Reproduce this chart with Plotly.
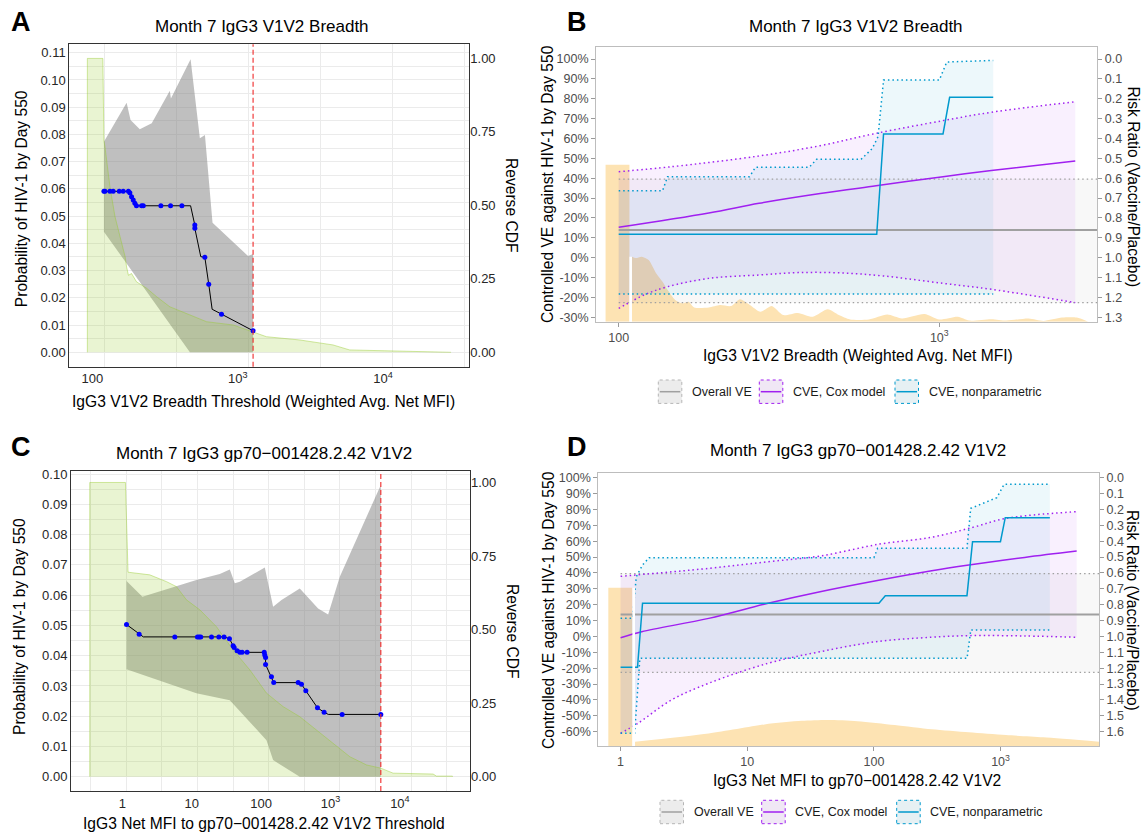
import math
import plotly.graph_objects as go

FONT = "Liberation Sans, Arial, sans-serif"
W, H = 1143, 833

# ================= DATA =================
# ---- Panel A: Month 7 IgG3 V1V2 Breadth (risk by threshold) ----
a_pt_x = [120, 122, 132, 139, 153, 163, 177, 181, 186, 191, 196, 201, 218, 224, 296, 345, 413, 507, 507, 594, 632, 774, 1276]
a_pt_y = [0.0591, 0.0591, 0.0591, 0.0591, 0.0591, 0.0591, 0.0591, 0.0586, 0.0571, 0.0559, 0.0547, 0.0538, 0.0538, 0.0538,
          0.0538, 0.0538, 0.0538, 0.0467, 0.0455, 0.0349, 0.0250, 0.0140, 0.0079]
a_line_x = [120, 181, 201, 474, 507, 507, 557, 594, 632, 667, 774, 1276]
a_line_y = [0.0591, 0.0591, 0.0538, 0.0538, 0.0467, 0.0455, 0.0351, 0.0349, 0.0250, 0.0158, 0.0140, 0.0079]
a_ci_up_x = [120, 124, 172, 183, 212, 256, 341, 347, 474, 549, 595, 671, 1178, 1276]
a_ci_up_y = [0.0773, 0.0786, 0.0916, 0.0853, 0.0819, 0.0841, 0.0960, 0.0932, 0.1076, 0.0786, 0.0798, 0.0476, 0.0354, 0.0361]
a_ci_lo_x = [120, 469, 1276]
a_ci_lo_y = [0.0443, 0.0, 0.0]
a_cdf_x = [92.3, 118, 120, 122, 132, 143, 155, 168, 172, 177, 186, 201, 236, 277, 341, 469, 611, 930, 1276, 1578, 2673,
           4530, 5894, 29400]
a_cdf_y = [1.0, 1.0, 0.72, 0.700, 0.564, 0.462, 0.393, 0.325, 0.290, 0.262, 0.268, 0.240, 0.218, 0.189, 0.155, 0.127,
           0.104, 0.093, 0.070, 0.053, 0.042, 0.025, 0.008, 0.002]

# ---- Panel C: Month 7 IgG3 gp70-001428.2.42 V1V2 (risk by threshold) ----
c_pt_x = [1.15, 1.75, 5.71, 12.1, 12.8, 13.5, 19.3, 24.6, 29.3, 35.0, 39.5, 40.9, 45.1, 49.4, 53.3, 62.9, 111, 113, 116,
          116, 141, 152, 342, 382, 441, 649, 809, 1471, 5310]
c_pt_y = [0.0503, 0.0471, 0.0462, 0.0462, 0.0462, 0.0462, 0.0462, 0.0462, 0.0462, 0.0456, 0.0433, 0.0427, 0.0416, 0.0411,
          0.0411, 0.0411, 0.0411, 0.0402, 0.0394, 0.0371, 0.0330, 0.0311, 0.0311, 0.0306, 0.0284, 0.0228, 0.0213, 0.0206,
          0.0206]
c_line_x = [1.15, 1.75, 2.01, 29.3, 35.0, 39.5, 40.9, 45.1, 49.4, 111, 113, 116, 116, 141, 152, 342, 382, 441, 649, 809,
            929, 5310]
c_line_y = [0.0503, 0.0471, 0.0462, 0.0462, 0.0456, 0.0433, 0.0427, 0.0416, 0.0411, 0.0411, 0.0402, 0.0394, 0.0371,
            0.0330, 0.0311, 0.0311, 0.0306, 0.0284, 0.0228, 0.0213, 0.0206, 0.0206]
c_ci_up_x = [1.15, 1.95, 11.7, 25.4, 35.4, 41.8, 49.4, 113, 149, 197, 361, 663, 925, 1362, 5310]
c_ci_up_y = [0.0647, 0.0595, 0.0650, 0.0670, 0.0685, 0.0639, 0.0644, 0.0691, 0.0562, 0.0584, 0.0622, 0.0556, 0.0536,
             0.0661, 0.0964]
c_ci_lo_x = [1.15, 11.7, 35.4, 119.5, 149, 361, 5310]
c_ci_lo_y = [0.0355, 0.0276, 0.0253, 0.0121, 0.0055, 0.0, 0.0]
c_cdf_x = [0.34, 1.11, 1.21, 2.49, 4.33, 6.03, 8.41, 13.1, 22.7, 39.5, 68.8, 119.5, 208, 361, 628, 1091, 1897, 3297,
           5310, 7990, 30100, 33600, 57200]
c_cdf_y = [1.0, 1.0, 0.695, 0.686, 0.663, 0.646, 0.601, 0.567, 0.510, 0.431, 0.363, 0.284, 0.238, 0.204, 0.159, 0.114,
           0.068, 0.040, 0.029, 0.012, 0.009, 0.002, 0.002]

# ---- Overall VE (shared by B and D), percent ----
overall_ve = 13.9
overall_lo = -22.6
overall_hi = 39.6

# ---- Panel B: CVE vs IgG3 V1V2 Breadth (percent) ----
b_cox_x = [100, 191, 274, 425, 635, 1027, 1453, 2655]
b_cox_y = [15.3, 22.5, 27.4, 32.3, 36.2, 40.8, 43.9, 48.7]
b_cox_up_x = [100, 146, 274, 425, 635, 1027, 1453, 2655]
b_cox_up_y = [43.3, 45.8, 51.2, 56.4, 62.6, 69.0, 73.2, 78.5]
b_cox_lo_x = [100, 121, 142, 191, 274, 362, 486, 670, 1027, 1453, 2655]
b_cox_lo_y = [-25.5, -18.5, -14.6, -10.4, -8.7, -7.5, -7.6, -9.2, -12.9, -15.9, -22.6]
b_np_x = [100, 638, 670, 1027, 1077, 1473]
b_np_y = [11.8, 11.8, 62.3, 62.3, 80.7, 80.7]
b_np_up_x = [100, 137, 142, 256, 267, 393, 414, 570, 618, 644, 670, 1000, 1055, 1473]
b_np_up_y = [33.7, 33.7, 40.8, 40.8, 45.5, 45.5, 49.5, 49.5, 55.0, 60.9, 89.4, 89.4, 98.5, 99.3]
b_np_lo_x = [100, 1473]
b_np_lo_y = [-18.3, -18.3]
b_bar_x = [91, 108]
b_bar_h = 0.572
b_dens_x = [110, 113, 118, 124, 131, 137, 142, 150, 158, 165, 172, 191, 207, 224, 239, 256, 277, 300, 326, 362, 403, 449,
            486, 527, 603, 688, 765, 899, 1000, 1143, 1239, 1454, 1619, 1899, 2112, 2415, 2687, 2911]
b_dens_h = [0.237, 0.232, 0.237, 0.225, 0.176, 0.146, 0.116, 0.079, 0.067, 0.073, 0.052, 0.052, 0.061, 0.057, 0.082,
            0.062, 0.036, 0.057, 0.024, 0.032, 0.018, 0.045, 0.024, 0.008, 0.008, 0.026, 0.012, 0.028, 0.008, 0.018,
            0.004, 0.009, 0.004, 0.012, 0.003, 0.015, 0.015, 0.0]

# ---- Panel D: CVE vs IgG3 Net MFI to gp70-001428.2.42 V1V2 (percent) ----
d_cox_x = [1, 1.47, 4.96, 14.6, 37.6, 104, 286, 562, 1549, 3990]
d_cox_y = [-0.8, 3.0, 11.4, 20.9, 28.2, 35.1, 41.4, 45.0, 49.8, 53.8]
d_cox_up_x = [1, 4.96, 14.6, 37.7, 111, 286, 602, 1107, 3990]
d_cox_up_y = [37.9, 42.9, 47.1, 50.7, 58.2, 62.5, 68.7, 74.4, 78.6]
d_cox_lo_x = [1, 1.37, 2.52, 4.96, 14.6, 37.7, 104, 286, 563, 1552, 3990]
d_cox_lo_y = [-61.0, -54.7, -40.0, -29.5, -16.9, -9.6, -3.3, -0.5, 0.5, 0.3, -0.5]
d_np_x = [1, 1.36, 1.49, 109.6, 123, 543, 601, 998, 1089, 2450]
d_np_y = [-19.4, -19.4, 20.9, 20.9, 25.7, 25.7, 59.7, 59.7, 74.8, 74.8]
d_np_up_x = [1, 1.24, 1.33, 1.49, 1.68, 100, 107, 543, 581, 933, 1067, 2450]
d_np_up_y = [11.4, 11.4, 37.6, 45.0, 49.6, 49.6, 55.5, 55.5, 80.7, 87.4, 95.8, 95.8]
d_np_lo_x = [1, 1.29, 1.42, 544, 582, 2450]
d_np_lo_y = [-61.0, -61.0, -13.8, -13.8, 4.1, 4.1]
d_bar_x = [0.80, 1.24]
d_bar_h = 0.579
d_dens_x = [1.30, 4.96, 13.7, 26.9, 43.1, 74.1, 146, 286, 562, 1104, 2172, 6000]
d_dens_h = [0.016, 0.046, 0.079, 0.092, 0.095, 0.091, 0.077, 0.061, 0.050, 0.040, 0.032, 0.016]

# ---- tick labels ----
a_prob_ticks = [0.00, 0.01, 0.02, 0.03, 0.04, 0.05, 0.06, 0.07, 0.08, 0.09, 0.10, 0.11]
c_prob_ticks = [0.00, 0.01, 0.02, 0.03, 0.04, 0.05, 0.06, 0.07, 0.08, 0.09, 0.10]
cdf_ticks = [0.0, 0.25, 0.5, 0.75, 1.0]
cdf_text = ["0.00", "0.25", "0.50", "0.75", "1.00"]
a_x_ticks = [100, 1000, 10000]
a_x_text = ["100", "10<sup>3</sup>", "10<sup>4</sup>"]
c_x_ticks = [1, 10, 100, 1000, 10000]
c_x_text = ["1", "10", "100", "10<sup>3</sup>", "10<sup>4</sup>"]
b_x_ticks = [100, 1000]
b_x_text = ["100", "10<sup>3</sup>"]
d_x_ticks = [1, 10, 100, 1000]
d_x_text = ["1", "10", "100", "10<sup>3</sup>"]
b_ve_ticks = [-30, -20, -10, 0, 10, 20, 30, 40, 50, 60, 70, 80, 90, 100]
d_ve_ticks = [-60, -50, -40, -30, -20, -10, 0, 10, 20, 30, 40, 50, 60, 70, 80, 90, 100]
b_rr_ticks = [0.0, 0.1, 0.2, 0.3, 0.4, 0.5, 0.6, 0.7, 0.8, 0.9, 1.0, 1.1, 1.2, 1.3]
d_rr_ticks = [0.0, 0.1, 0.2, 0.3, 0.4, 0.5, 0.6, 0.7, 0.8, 0.9, 1.0, 1.1, 1.2, 1.3, 1.4, 1.5, 1.6]

# ================= STYLE =================
GRID = "#EBEBEB"
BORDER_DARK = "#333333"
BORDER_LIGHT = "#BDBDBD"
TICK_DARK = "#262626"
TICK_GRAY = "#4D4D4D"
GRAY_BAND = "rgba(128,128,128,0.50)"
GREEN_FILL = "rgba(154,205,50,0.22)"
GREEN_LINE = "rgba(154,205,50,0.45)"
ORANGE = "#FDE3B3"
PURPLE = "#A020F0"
BLUE = "#009ACD"
OVGRAY = "#A0A0A0"
PURPLE_FILL = "rgba(160,32,240,0.065)"
BLUE_FILL = "rgba(0,154,205,0.07)"
GRAY_FILL = "rgba(150,150,150,0.07)"
DOT = "1.5px,3px"

# pixel geometry of the four panels (left, right, top, bottom)
PA = (69.3, 469.3, 44.3, 366.7)
PB = (596.1, 1097.3, 47.3, 321.7)
PC = (71.0, 470.0, 471.0, 791.0)
PD = (598.3, 1099.1, 472.7, 746.0)

a_xrange = [1.841, 4.594]
c_xrange = [-0.739, 5.010]
b_xrange = [1.9295, 3.4928]
d_xrange = [-0.176, 3.778]
a_yrange = [-0.0053, 0.1131]
c_yrange = [-0.0047, 0.1010]
a_cdfrange = [-0.049, 1.048]
c_cdfrange = [-0.0486, 1.039]
b_verange = [-32.2, 105.9]
d_verange = [-69.0, 103.15]

# vertical grid positions (log10) in A and C
a_grid = [10 ** (2.0819 + 0.4955 * k) for k in range(6)]
c_grid = [10 ** (-0.455 + 0.513 * k) for k in range(11)]


def xdom(p):
    return [p[0] / W, p[1] / W]


def ydom(p):
    return [1 - p[3] / H, 1 - p[2] / H]


def px(x):
    return x / W


def py(y):
    return 1 - y / H


fig = go.Figure()


def add(tr):
    tr.update(hoverinfo="skip", showlegend=False)
    fig.add_trace(tr)


# ================= PANEL A / C (threshold plots) =================
def threshold_panel(xa, ymain, ycdf, yline, up_x, up_y, lo_x, lo_y, cdf_x, cdf_y, line_x, line_y, pt_x, pt_y):
    add(go.Scatter(x=up_x + lo_x[::-1], y=up_y + lo_y[::-1], fill="toself", fillcolor=GRAY_BAND,
                   mode="lines", line=dict(width=0), xaxis=xa, yaxis=ymain))
    add(go.Scatter(x=[cdf_x[0]] + cdf_x + [cdf_x[-1]], y=[0] + cdf_y + [0], fill="toself", fillcolor=GREEN_FILL,
                   mode="lines", line=dict(color=GREEN_LINE, width=1), xaxis=xa, yaxis=ycdf))
    add(go.Scatter(x=line_x, y=line_y, mode="lines", line=dict(color="black", width=1), xaxis=xa, yaxis=yline))
    add(go.Scatter(x=pt_x, y=pt_y, mode="markers", marker=dict(color="#0000FF", size=5), xaxis=xa, yaxis=yline))


threshold_panel("x", "y", "y2", "y3", a_ci_up_x, a_ci_up_y, a_ci_lo_x, a_ci_lo_y, a_cdf_x, a_cdf_y,
                a_line_x, a_line_y, a_pt_x, a_pt_y)
threshold_panel("x3", "y10", "y11", "y12", c_ci_up_x, c_ci_up_y, c_ci_lo_x, c_ci_lo_y, c_cdf_x, c_cdf_y,
                c_line_x, c_line_y, c_pt_x, c_pt_y)


# ================= PANEL B / D (CVE plots) =================
def cve_panel(xa, ydens, yve, yrr, ywhite, xrange, bar_x, bar_h, dens_x, dens_h, gap_h,
              cox_x, cox_y, cup_x, cup_y, clo_x, clo_y, np_x, np_y, nup_x, nup_y, nlo_x, nlo_y):
    add(go.Scatter(x=[bar_x[0], bar_x[0], bar_x[1], bar_x[1]], y=[0, bar_h, bar_h, 0], fill="toself",
                   fillcolor=ORANGE, mode="lines", line=dict(width=0), xaxis=xa, yaxis=ydens))
    add(go.Scatter(x=dens_x, y=dens_h, fill="tozeroy", fillcolor=ORANGE, mode="lines",
                   line=dict(width=0, shape="spline", smoothing=0.7), xaxis=xa, yaxis=ydens))
    x0 = cox_x[0]
    x_end = 10 ** xrange[1]
    add(go.Scatter(x=[x0, x_end, x_end, x0], y=[overall_hi, overall_hi, overall_lo, overall_lo], fill="toself",
                   fillcolor=GRAY_FILL, mode="lines", line=dict(width=0), xaxis=xa, yaxis=yve))
    add(go.Scatter(x=cup_x + clo_x[::-1], y=cup_y + clo_y[::-1], fill="toself", fillcolor=PURPLE_FILL,
                   mode="lines", line=dict(width=0), xaxis=xa, yaxis=yve))
    add(go.Scatter(x=nup_x + nlo_x[::-1], y=nup_y + nlo_y[::-1], fill="toself", fillcolor=BLUE_FILL,
                   mode="lines", line=dict(width=0), xaxis=xa, yaxis=yve))
    for yy in (overall_hi, overall_lo):
        add(go.Scatter(x=[x0, x_end], y=[yy, yy], mode="lines", line=dict(color=OVGRAY, width=1.3, dash=DOT),
                       xaxis=xa, yaxis=yve))
    add(go.Scatter(x=cup_x, y=cup_y, mode="lines", line=dict(color=PURPLE, width=1.5, dash=DOT, shape="spline"),
                   xaxis=xa, yaxis=yve))
    add(go.Scatter(x=clo_x, y=clo_y, mode="lines", line=dict(color=PURPLE, width=1.5, dash=DOT, shape="spline"),
                   xaxis=xa, yaxis=yve))
    add(go.Scatter(x=nup_x, y=nup_y, mode="lines", line=dict(color=BLUE, width=1.5, dash=DOT), xaxis=xa, yaxis=yve))
    add(go.Scatter(x=nlo_x, y=nlo_y, mode="lines", line=dict(color=BLUE, width=1.5, dash=DOT), xaxis=xa, yaxis=yve))
    add(go.Scatter(x=[x0, x_end], y=[overall_ve, overall_ve], mode="lines", line=dict(color=OVGRAY, width=2),
                   xaxis=xa, yaxis=yve))
    add(go.Scatter(x=cox_x, y=cox_y, mode="lines", line=dict(color=PURPLE, width=1.5, shape="spline"),
                   xaxis=xa, yaxis=yve))
    add(go.Scatter(x=np_x, y=np_y, mode="lines", line=dict(color=BLUE, width=1.5), xaxis=xa, yaxis=yve))
    add(go.Scatter(x=[], y=[], mode="lines", xaxis=xa, yaxis=yrr))
    add(go.Scatter(x=[bar_x[1], bar_x[1], dens_x[0], dens_x[0]], y=[0, gap_h, gap_h, 0], fill="toself",
                   fillcolor="white", mode="lines", line=dict(width=0), xaxis=xa, yaxis=ywhite))


cve_panel("x2", "y4", "y5", "y6", "y7", b_xrange, b_bar_x, b_bar_h, b_dens_x, b_dens_h, b_dens_h[0],
          b_cox_x, b_cox_y, b_cox_up_x, b_cox_up_y, b_cox_lo_x, b_cox_lo_y,
          b_np_x, b_np_y, b_np_up_x, b_np_up_y, b_np_lo_x, b_np_lo_y)
cve_panel("x4", "y13", "y14", "y15", "y16", d_xrange, d_bar_x, d_bar_h, d_dens_x, d_dens_h, d_bar_h,
          d_cox_x, d_cox_y, d_cox_up_x, d_cox_up_y, d_cox_lo_x, d_cox_lo_y,
          d_np_x, d_np_y, d_np_up_x, d_np_up_y, d_np_lo_x, d_np_lo_y)

# ================= AXES =================
tf_dark = dict(family=FONT, size=13, color=TICK_DARK)
tf_gray = dict(family=FONT, size=12.5, color=TICK_GRAY)


def thr_x(p, anchor, rng, tv, tt, grid):
    return dict(type="log", domain=xdom(p), anchor=anchor, range=rng, tickmode="array", tickvals=tv, ticktext=tt,
                showgrid=False, zeroline=False, showline=True, mirror=True, linecolor=BORDER_DARK, linewidth=1,
                ticks="", tickfont=tf_dark, fixedrange=True, automargin=False,
                minor=dict(tickmode="array", tickvals=grid, showgrid=True, gridcolor=GRID, gridwidth=1, ticks=""))


def thr_y(p, anchor, rng, tv):
    return dict(domain=ydom(p), anchor=anchor, range=rng, tickmode="array", tickvals=tv,
                ticktext=["%.2f" % v for v in tv], showgrid=True, gridcolor=GRID, gridwidth=1, zeroline=False,
                showline=True, mirror=True, linecolor=BORDER_DARK, linewidth=1, ticks="", tickfont=tf_dark,
                fixedrange=True, automargin=False,
                minor=dict(tickmode="linear", tick0=0, dtick=0.005, showgrid=True, gridcolor=GRID, gridwidth=1,
                           ticks=""))


def cdf_y(anchor, over, rng):
    return dict(anchor=anchor, overlaying=over, side="right", range=rng, tickmode="array", tickvals=cdf_ticks,
                ticktext=cdf_text, showgrid=False, zeroline=False, showline=False, ticks="", tickfont=tf_dark,
                fixedrange=True, automargin=False)


def hidden_y(anchor, over, rng):
    d = dict(anchor=anchor, range=rng, visible=False, showgrid=False, zeroline=False, fixedrange=True,
             automargin=False)
    if over:
        d["overlaying"] = over
    return d


def cve_x(p, anchor, rng, tv, tt):
    return dict(type="log", domain=xdom(p), anchor=anchor, range=rng, tickmode="array", tickvals=tv, ticktext=tt,
                showgrid=False, zeroline=False, showline=True, mirror=True, linecolor=BORDER_LIGHT, linewidth=1,
                ticks="outside", ticklen=4, tickcolor="#9A9A9A", tickwidth=1, tickfont=tf_gray, fixedrange=True,
                automargin=False)


def ve_y(anchor, over, rng, tv):
    return dict(anchor=anchor, overlaying=over, side="left", range=rng, tickmode="array", tickvals=tv,
                ticktext=["%d%%" % v for v in tv], showgrid=False, zeroline=False, showline=True, mirror=True,
                linecolor=BORDER_LIGHT, linewidth=1, ticks="outside", ticklen=4, tickcolor="#9A9A9A", tickwidth=1,
                tickfont=tf_gray, fixedrange=True, automargin=False)


def rr_y(anchor, over, verng, tv):
    return dict(anchor=anchor, overlaying=over, side="right", range=[1 - verng[0] / 100, 1 - verng[1] / 100],
                tickmode="array", tickvals=tv, ticktext=["%.1f" % v for v in tv], showgrid=False, zeroline=False,
                showline=False, ticks="outside", ticklen=4, tickcolor="#9A9A9A", tickwidth=1, tickfont=tf_gray,
                fixedrange=True, automargin=False)


layout = dict(
    template="none",
    width=W, height=H, autosize=False, margin=dict(l=0, r=0, t=0, b=0, pad=0),
    paper_bgcolor="white", plot_bgcolor="white", showlegend=False,
    font=dict(family=FONT, size=13, color="#1a1a1a"),
    xaxis=thr_x(PA, "y", a_xrange, a_x_ticks, a_x_text, a_grid),
    yaxis=thr_y(PA, "x", a_yrange, a_prob_ticks),
    yaxis2=cdf_y("x", "y", a_cdfrange),
    yaxis3=hidden_y("x", "y", a_yrange),
    xaxis2=cve_x(PB, "y4", b_xrange, b_x_ticks, b_x_text),
    yaxis4=dict(domain=ydom(PB), anchor="x2", range=[0, 1], visible=False, showgrid=False, zeroline=False,
                fixedrange=True, automargin=False),
    yaxis5=ve_y("x2", "y4", b_verange, b_ve_ticks),
    yaxis6=rr_y("x2", "y4", b_verange, b_rr_ticks),
    yaxis7=hidden_y("x2", "y4", [0, 1]),
    xaxis3=thr_x(PC, "y10", c_xrange, c_x_ticks, c_x_text, c_grid),
    yaxis10=thr_y(PC, "x3", c_yrange, c_prob_ticks),
    yaxis11=cdf_y("x3", "y10", c_cdfrange),
    yaxis12=hidden_y("x3", "y10", c_yrange),
    xaxis4=cve_x(PD, "y13", d_xrange, d_x_ticks, d_x_text),
    yaxis13=dict(domain=ydom(PD), anchor="x4", range=[0, 1], visible=False, showgrid=False, zeroline=False,
                 fixedrange=True, automargin=False),
    yaxis14=ve_y("x4", "y13", d_verange, d_ve_ticks),
    yaxis15=rr_y("x4", "y13", d_verange, d_rr_ticks),
    yaxis16=hidden_y("x4", "y13", [0, 1]),
)
fig.update_layout(**layout)

# ================= SHAPES (cut-off lines, legend keys) =================
shapes = []
for xa, yref, last_x in (("x", "y domain", a_pt_x[-1]), ("x3", "y10 domain", c_pt_x[-1])):
    shapes.append(dict(type="line", xref=xa, yref=yref, x0=last_x, x1=last_x, y0=0, y1=1,
                       line=dict(color="#F02828", width=1.1, dash="5px,3px"), layer="above"))

legend_items = [("Overall VE", OVGRAY, "#ECECEC", "#B5B5B5"),
                ("CVE, Cox model", PURPLE, "#F0E7F5", PURPLE),
                ("CVE, nonparametric", BLUE, "#E6F0F3", BLUE)]
legend_rows = [(391.7, [658.3, 759.3, 895.0]), (812.0, [660.0, 761.7, 896.7])]
annotations = []
for yc, xs in legend_rows:
    for (label, lc, fc, bc), x0 in zip(legend_items, xs):
        shapes.append(dict(type="rect", xref="paper", yref="paper", x0=px(x0), x1=px(x0 + 23.5), y0=py(yc + 11.7),
                           y1=py(yc - 11.7), fillcolor=fc, line=dict(color=bc, width=1, dash="dot"), layer="above"))
        shapes.append(dict(type="line", xref="paper", yref="paper", x0=px(x0 + 1.5), x1=px(x0 + 22), y0=py(yc),
                           y1=py(yc), line=dict(color=lc, width=1.5), layer="above"))
        annotations.append(dict(text=label, x=px(x0 + 31.7), y=py(yc), xref="paper", yref="paper", xanchor="left",
                                yanchor="middle", showarrow=False, font=dict(family=FONT, size=12.5, color="#1a1a1a")))


def txt(s, x, y, size, angle=0, bold=False, color="#000000"):
    annotations.append(dict(text=("<b>%s</b>" % s) if bold else s, x=px(x), y=py(y), xref="paper", yref="paper",
                            xanchor="center", yanchor="middle", showarrow=False, textangle=angle,
                            font=dict(family=FONT, size=size, color=color)))


txt("A", 21.2, 21.7, 27, bold=True)
txt("B", 577.0, 21.7, 27, bold=True)
txt("C", 21.2, 447.5, 27, bold=True)
txt("D", 577.0, 447.0, 27, bold=True)
txt("Month 7 IgG3 V1V2 Breadth", 261.7, 26.5, 17)
txt("Month 7 IgG3 V1V2 Breadth", 855.6, 27.0, 17)
txt("Month 7 IgG3 gp70\u2212001428.2.42 V1V2", 263.8, 453.0, 17)
txt("Month 7 IgG3 gp70\u2212001428.2.42 V1V2", 858.4, 450.5, 17)
txt("IgG3 V1V2 Breadth Threshold (Weighted Avg. Net MFI)", 263.3, 401.5, 15.6)
txt("IgG3 Net MFI to gp70\u2212001428.2.42 V1V2 Threshold", 264.0, 823.5, 15.6)
txt("IgG3 V1V2 Breadth (Weighted Avg. Net MFI)", 858.4, 355.0, 15.6)
txt("IgG3 Net MFI to gp70\u2212001428.2.42 V1V2", 856.5, 780.0, 15.6)
txt("Probability of HIV-1 by Day 550", 21.7, 198.5, 15.6, angle=-90)
txt("Probability of HIV-1 by Day 550", 19.5, 626.5, 15.6, angle=-90)
txt("Reverse CDF", 511.0, 205.0, 15.6, angle=90)
txt("Reverse CDF", 513.0, 631.0, 15.6, angle=90)
txt("Controlled VE against HIV-1 by Day 550", 548.0, 184.0, 15.6, angle=-90)
txt("Controlled VE against HIV-1 by Day 550", 548.0, 610.0, 15.6, angle=-90)
txt("Risk Ratio (Vaccine/Placebo)", 1133.0, 186.5, 15.6, angle=90)
txt("Risk Ratio (Vaccine/Placebo)", 1133.0, 610.0, 15.6, angle=90)

fig.update_layout(shapes=shapes, annotations=annotations)
fig.write_html("out.html", config={"displayModeBar": False, "staticPlot": True},
               post_script="document.body.style.margin='0px';document.body.style.overflow='hidden';")
